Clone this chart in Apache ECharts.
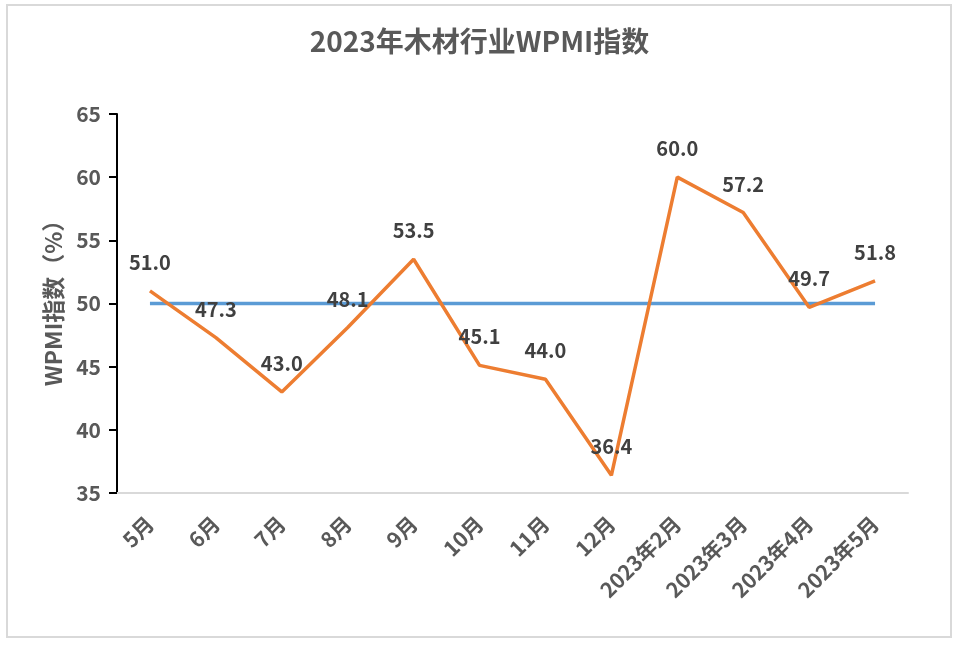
<!DOCTYPE html>
<html><head><meta charset="utf-8">
<script src="https://cdn.jsdelivr.net/npm/echarts@6/dist/echarts.min.js"></script>
<style>html,body{margin:0;padding:0;background:#fff}#c{width:959px;height:645px}</style>
</head><body><div id="c"></div>
<script>
const categories = ['5月','6月','7月','8月','9月','10月','11月','12月','2023年2月','2023年3月','2023年4月','2023年5月'];
const wpmiValues = [51.0, 47.3, 43.0, 48.1, 53.5, 45.1, 44.0, 36.4, 60.0, 57.2, 49.7, 51.8];
const baselineValues = [50,50,50,50,50,50,50,50,50,50,50,50];
const font = '"Noto Sans CJK SC", "Noto Sans", sans-serif';
const chart = echarts.init(document.getElementById('c'), null, {renderer:'canvas'});
chart.setOption({
  animation:false,
  backgroundColor:'#fff',
  title:{text:'2023年木材行业WPMI指数', left:'center', top:22,
    textStyle:{fontFamily:font, fontSize:28, fontWeight:'bold', color:'#595959'}},
  graphic:[{type:'rect', shape:{x:7,y:5,width:944,height:632}, style:{fill:'none', stroke:'#d9d9d9', lineWidth:2}, silent:true}],
  grid:{left:117, right:51, top:114, bottom:152},
  xAxis:{type:'category', data:categories, boundaryGap:true,
    axisLine:{lineStyle:{color:'#d9d9d9', width:2}},
    axisTick:{show:false},
    axisLabel:{rotate:45, interval:0, margin:27, fontFamily:font, fontSize:21, fontWeight:'bold', color:'#595959'}},
  yAxis:{type:'value', min:35, max:65, interval:5,
    name:'WPMI指数（%）', nameLocation:'middle', nameGap:52, nameRotate:90,
    nameTextStyle:{fontFamily:font, fontSize:23, fontWeight:'bold', color:'#595959', padding:[0,0,0,12]},
    axisLine:{show:true, lineStyle:{color:'#000', width:2}},
    axisTick:{show:true, inside:false, length:8, lineStyle:{color:'#000', width:2}},
    splitLine:{show:false},
    axisLabel:{margin:16, fontFamily:font, fontSize:21, fontWeight:'bold', color:'#595959'}},
  series:[
    {type:'line', data:baselineValues, symbol:'none', lineStyle:{color:'#5B9BD5', width:3.5}, z:2},
    {type:'line', data:wpmiValues, symbol:'circle', symbolSize:1, showSymbol:true,
      itemStyle:{color:'#ED7D31', opacity:0},
      lineStyle:{color:'#ED7D31', width:3.5}, z:3,
      label:{show:true, position:'top', distance:18, formatter:p=>p.value.toFixed(1),
        fontFamily:font, fontSize:20, fontWeight:'bold', color:'#404040', opacity:1}}
  ]
});
</script></body></html>
